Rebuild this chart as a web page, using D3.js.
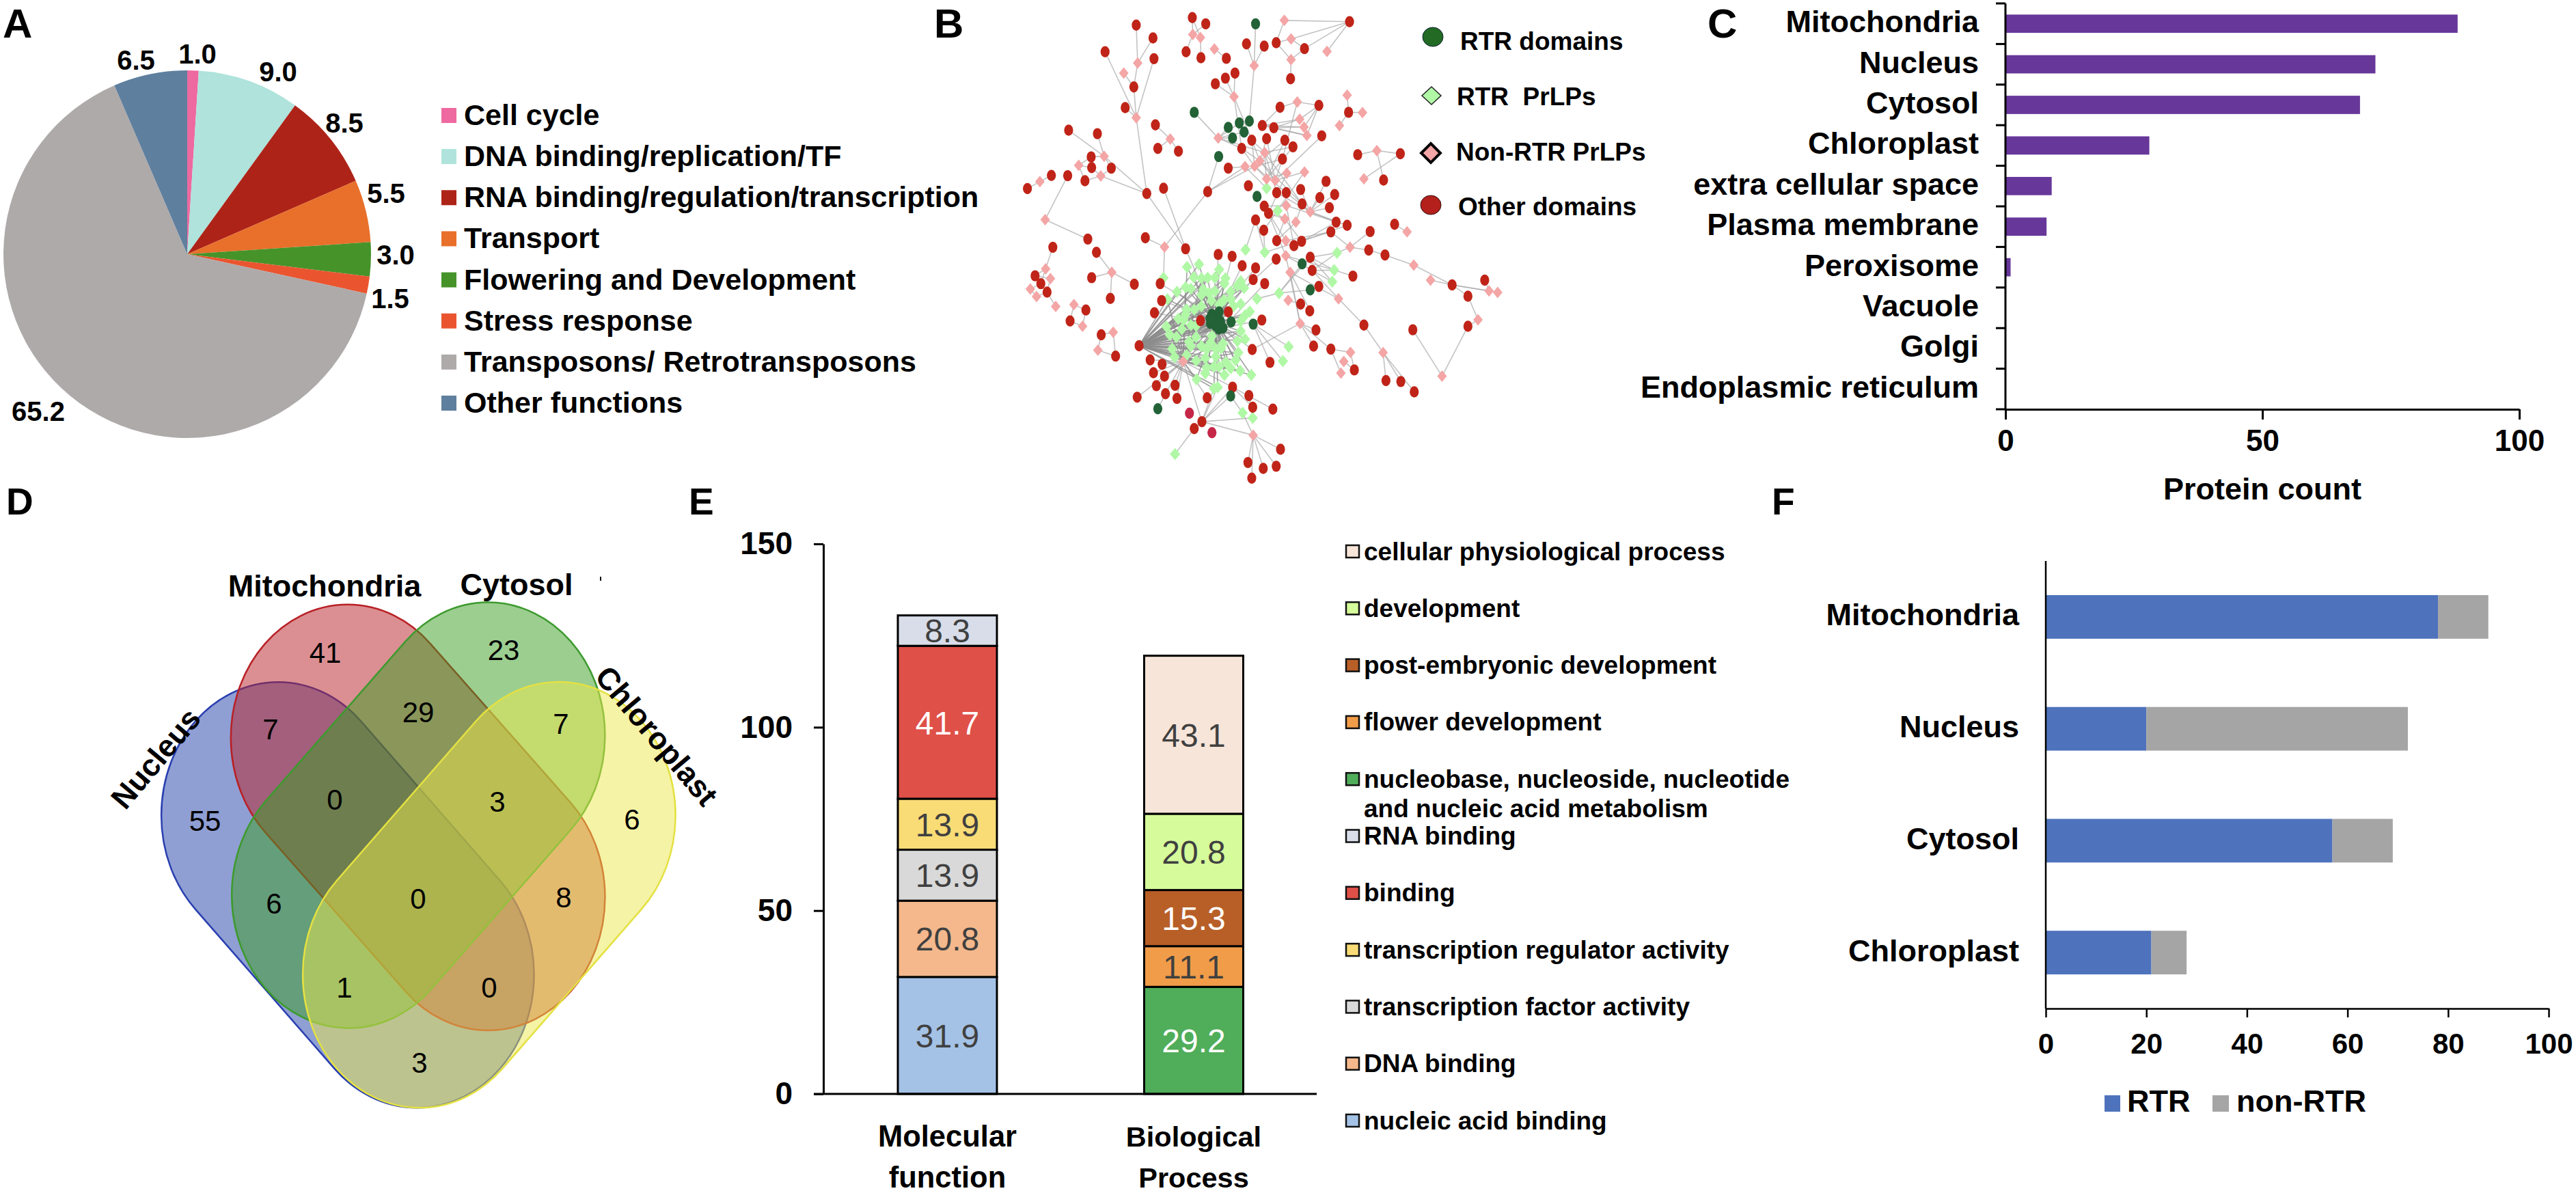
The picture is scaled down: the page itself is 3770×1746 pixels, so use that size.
<!DOCTYPE html>
<html><head><meta charset="utf-8">
<script src="https://cdn.jsdelivr.net/npm/d3@7/dist/d3.min.js"></script>
<style>html,body{margin:0;padding:0;background:#fff}svg{display:block}text{font-family:"Liberation Sans",Arial,sans-serif}</style>
</head><body><svg id="c" width="3770" height="1746" viewBox="0 0 3770 1746"></svg>
<script>
// ---------- Panel A ----------
const funcNames=["Cell cycle","DNA binding/replication/TF","RNA binding/regulation/transcription","Transport","Flowering and Development","Stress response","Transposons/ Retrotransposons","Other functions"];
const funcValues=[1.0,9.0,8.5,5.5,3.0,1.5,65.2,6.5];
const funcColors=["#ee69a0","#afe3db","#ae2318","#e8702b","#46932a","#ea5530","#aeaaaa","#5f7f9e"];
// ---------- Panel B (in layout units) ----------
const otherDomains=[[563,56],[591,76],[446,80],[481,121],[381,165],[483,187],[550,165],[581,184],[634,186],[676,140],[713,147],[738,136],[797,155],[891,69],[768,251],[652,233],[632,249],[611,267],[441,277],[423,343],[746,342],[827,336],[889,358],[709,400],[733,407],[486,398],[305,415],[365,426],[833,433],[718,442],[756,447],[687,447],[773,468],[666,473],[491,473],[534,482],[751,507],[908,493],[997,490],[638,536],[352,500],[353,534],[394,536],[339,576],[269,559],[303,560],[219,601],[468,617],[503,600],[595,611],[680,592],[842,578],[962,574],[789,604],[739,614],[759,614],[860,620],[829,630],[792,650],[849,662],[713,657],[722,680],[695,701],[863,708],[886,718],[852,739],[712,734],[985,715],[934,738],[465,758],[345,762],[549,793],[739,767],[775,783],[791,769],[272,788],[363,804],[931,797],[965,813],[617,811],[646,817],[738,826],[809,820],[667,847],[695,854],[813,862],[898,880],[235,879],[353,885],[247,904],[260,931],[442,906],[496,904],[690,891],[714,904],[827,913],[1105,908],[1173,893],[1138,944],[392,951],[499,958],[789,969],[341,988],[808,991],[484,997],[638,994],[580,1022],[708,1020],[308,1023],[821,1052],[1023,1051],[921,1036],[1138,1040],[373,1067],[452,1102],[403,1135],[816,1103],[852,1113],[688,1114],[475,1147],[500,1161],[725,1155],[482,1188],[505,1199],[901,1179],[488,1229],[527,1228],[967,1213],[998,1216],[1026,1249],[507,1255],[647,1234],[448,1266],[531,1270],[594,1268],[681,1261],[689,1298],[731,1304],[583,1344],[567,1366],[747,1432],[679,1474],[711,1493],[738,1486],[687,1524]];
const crimsonDomains=[[557,1317],[604,1379]];
const rtrDomains=[[695,76],[567,358],[661,392],[682,386],[638,406],[671,421],[647,440],[618,499],[698,626],[792,841],[809,924],[690,1033],[644,1026],[643,1262],[491,1303]];
const rtrCore=[[604,1002],[619,994],[601,1031],[612,1016],[627,1045],[612,1038],[600,1015],[622,1025],[618,1048]];
const nonRtrPrLPs=[[755,65],[769,124],[564,110],[580,120],[609,156],[692,209],[769,190],[844,164],[650,308],[782,325],[886,303],[918,359],[870,400],[787,380],[796,405],[802,432],[449,201],[420,233],[446,375],[617,440],[517,443],[714,486],[704,513],[673,531],[693,530],[948,480],[921,570],[379,498],[326,527],[372,561],[245,579],[797,548],[760,552],[718,570],[736,575],[759,655],[809,675],[756,698],[779,708],[256,700],[1011,739],[758,767],[892,788],[505,787],[758,815],[1025,845],[767,868],[1060,893],[395,868],[257,857],[267,888],[225,921],[238,945],[278,977],[316,971],[334,1040],[398,1059],[366,1116],[763,957],[868,952],[1182,927],[1200,932],[1159,1019],[788,1031],[961,1124],[893,1123],[879,1152],[873,1189],[1084,1199],[544,1152],[690,1387]];
const rtrPrLPsOuter=[[718,600],[741,672],[674,796],[714,804],[865,806],[859,861],[855,898],[744,934],[698,952],[503,886],[764,1105],[752,1151],[668,1316],[689,1332],[527,1447]];
const rtrPrLPsCloud=[[552,851],[577,842],[619,859],[566,884],[582,887],[595,885],[610,885],[632,887],[630,904],[664,896],[657,911],[671,918],[549,916],[560,920],[531,930],[586,923],[598,935],[610,928],[582,940],[643,930],[511,954],[603,958],[629,956],[643,952],[582,976],[619,971],[664,969],[649,976],[567,987],[551,986],[683,993],[549,1002],[534,1016],[545,1020],[673,1005],[664,1023],[509,1041],[541,1049],[560,1036],[571,1038],[664,1055],[516,1067],[530,1074],[571,1074],[604,1071],[657,1087],[673,1081],[556,1089],[560,1103],[582,1103],[601,1092],[627,1095],[521,1112],[593,1113],[612,1112],[623,1110],[659,1124],[526,1138],[551,1132],[590,1141],[612,1136],[571,1150],[653,1148],[633,1154],[593,1172],[608,1169],[619,1169],[643,1174],[663,1182],[590,1190],[630,1195],[686,1195],[572,1209],[608,1238],[616,1234]];
const networkLinks=[[446,80,449,201],[481,121,449,201],[381,165,446,375],[483,187,446,375],[449,201,441,277],[420,233,441,277],[441,277,446,375],[423,343,446,375],[446,375,468,617],[563,56,580,120],[591,76,564,110],[564,110,550,165],[580,120,581,184],[563,56,564,110],[609,156,634,186],[695,76,692,209],[676,140,692,209],[713,147,692,209],[692,209,682,386],[755,65,891,69],[755,65,738,136],[738,136,769,124],[769,124,891,69],[769,124,797,155],[797,155,891,69],[844,164,891,69],[738,136,769,190],[769,190,797,155],[769,190,768,251],[611,267,650,308],[632,249,650,308],[652,233,650,308],[650,308,666,473],[650,308,687,447],[567,358,617,440],[617,440,638,406],[617,440,647,440],[617,440,661,392],[617,440,671,421],[617,440,666,473],[617,440,714,486],[618,499,595,611],[746,342,709,400],[782,325,746,342],[782,325,827,336],[827,336,787,380],[827,336,796,405],[827,336,802,432],[782,325,751,507],[709,400,787,380],[733,407,796,405],[709,400,802,432],[733,407,787,380],[733,407,802,432],[709,400,796,405],[833,433,736,575],[886,303,889,358],[889,358,918,359],[889,358,870,400],[486,398,517,443],[517,443,491,473],[517,443,534,482],[908,493,948,480],[948,480,997,490],[948,480,962,574],[997,490,921,570],[305,415,379,498],[365,426,379,498],[379,498,352,500],[379,498,468,617],[352,500,326,527],[353,534,326,527],[353,534,372,561],[394,536,372,561],[339,576,372,561],[326,527,339,576],[372,561,468,617],[394,536,379,498],[219,601,245,579],[245,579,269,559],[303,560,256,700],[256,700,345,762],[468,617,549,793],[503,600,549,793],[595,611,505,787],[595,611,673,531],[595,611,693,530],[638,536,673,531],[465,758,505,787],[505,787,503,886],[687,447,714,486],[718,442,704,513],[756,447,704,513],[773,468,714,486],[751,507,693,530],[666,473,704,513],[666,473,693,530],[687,447,693,530],[687,447,704,513],[718,442,736,575],[756,447,718,570],[773,468,718,570],[704,513,736,575],[693,530,718,570],[714,486,718,600],[673,531,718,600],[714,486,739,614],[693,530,759,614],[704,513,792,650],[714,486,792,650],[751,507,736,575],[797,548,736,575],[760,552,722,680],[760,552,718,570],[797,548,712,734],[789,604,809,675],[739,614,809,675],[759,614,809,675],[792,650,809,675],[829,630,809,675],[849,662,809,675],[860,620,809,675],[842,578,809,675],[809,675,863,708],[809,675,886,718],[759,655,863,708],[759,655,713,657],[756,698,713,657],[756,698,722,680],[779,708,792,650],[779,708,739,767],[756,698,739,767],[756,698,791,769],[759,655,775,783],[713,657,758,767],[722,680,758,815],[695,701,674,796],[712,734,714,804],[695,701,714,804],[852,739,758,767],[852,739,714,804],[863,708,775,783],[886,718,791,769],[985,715,1011,739],[934,738,892,788],[892,788,931,797],[892,788,852,739],[931,797,965,813],[965,813,1025,845],[1025,845,1105,908],[1060,893,1105,908],[1105,908,1182,927],[1105,908,1200,932],[1173,893,1182,927],[1138,944,1105,908],[1138,944,1159,1019],[1159,1019,1138,1040],[1138,1040,1084,1199],[1023,1051,1084,1199],[892,788,865,806],[865,806,809,820],[865,806,813,862],[859,861,809,820],[859,861,813,862],[855,898,813,862],[855,898,809,820],[859,861,898,880],[758,815,813,862],[758,815,859,861],[813,862,868,952],[767,868,868,952],[868,952,921,1036],[921,1036,961,1124],[961,1124,967,1213],[961,1124,998,1216],[961,1124,1026,1249],[744,934,809,924],[744,934,809,820],[744,934,792,841],[698,952,744,934],[767,868,809,991],[763,957,789,969],[758,815,788,1031],[767,868,788,1031],[788,1031,688,1114],[788,1031,816,1103],[788,1031,821,1052],[788,1031,852,1113],[852,1113,893,1123],[852,1113,873,1189],[893,1123,901,1179],[879,1152,901,1179],[690,1033,764,1105],[690,1033,752,1151],[690,1033,725,1155],[235,879,257,857],[272,788,257,857],[257,857,247,904],[267,888,235,879],[267,888,260,931],[225,921,247,904],[225,921,238,945],[238,945,260,931],[260,931,278,977],[316,971,341,988],[341,988,334,1040],[308,1023,316,971],[308,1023,334,1040],[363,804,395,868],[353,885,395,868],[395,868,442,906],[395,868,392,951],[373,1067,398,1059],[398,1059,403,1135],[373,1067,366,1116],[366,1116,403,1135],[544,1152,475,1147],[544,1152,500,1161],[544,1152,482,1188],[544,1152,505,1199],[544,1152,488,1229],[544,1152,527,1228],[544,1152,507,1255],[544,1152,448,1266],[544,1152,531,1270],[544,1152,594,1268],[544,1152,647,1234],[491,1303,507,1255],[583,1344,544,1152],[583,1344,689,1332],[583,1344,690,1387],[583,1344,608,1238],[583,1344,616,1234],[583,1344,643,1262],[583,1344,647,1234],[567,1366,527,1447],[567,1366,583,1344],[690,1387,747,1432],[690,1387,679,1474],[690,1387,711,1493],[690,1387,738,1486],[690,1387,687,1524],[690,1387,668,1316],[668,1316,643,1262],[689,1332,681,1261],[647,1234,689,1298],[647,1234,731,1304],[496,904,604,1002],[499,958,604,1016],[484,997,601,1031],[617,811,612,1016],[646,817,612,1016],[667,847,612,1016],[695,854,619,994],[738,826,619,994],[690,891,619,994],[714,904,627,1045],[708,1020,627,1045],[688,1114,627,1045],[549,793,612,1016]];
// ---------- Panel C ----------
const locNames=["Mitochondria","Nucleus","Cytosol","Chloroplast","extra cellular space","Plasma membrane","Peroxisome","Vacuole","Golgi","Endoplasmic reticulum"];
const locCounts=[88,72,69,28,9,8,1,0,0,0];
// ---------- Panel D ----------
const vennSets=["Nucleus","Mitochondria","Cytosol","Chloroplast"];
const vennCounts=[55,41,23,7,29,7,0,3,6,6,0,8,1,0,3];
const vennFill=["#2040a8","#b82025","#3a9e22","#ebe84b"];
const vennStroke=["#2a3fb0","#b82025","#3d9a2e","#e4e142"];
// ---------- Panel E ----------
const goColumns=["Molecular function","Biological Process"];
const goMolecular=[["nucleic acid binding",31.9,"#a4c2e6"],["DNA binding",20.8,"#f4b88c"],["transcription factor activity",13.9,"#d9d9d9"],["transcription regulator activity",13.9,"#f9dc76"],["binding",41.7,"#df5048"],["RNA binding",8.3,"#d8dde9"]];
const goBiological=[["nucleobase, nucleoside, nucleotide",29.2,"#50ad5a"],["flower development",11.1,"#f19c49"],["post-embryonic development",15.3,"#b85f28"],["development",20.8,"#d6fb9a"],["cellular physiological process",43.1,"#f7e5d9"]];
const goLegendOrder=["cellular physiological process","development","post-embryonic development","flower development","nucleobase, nucleoside, nucleotide","RNA binding","binding","transcription regulator activity","transcription factor activity","DNA binding","nucleic acid binding"];
const goTicks=[0,50,100,150];
// ---------- Panel F ----------
const orgNames=["Mitochondria","Nucleus","Cytosol","Chloroplast"];
const orgRTR=[78,20,57,21];
const orgNonRTR=[10,52,12,7];
const orgTicks=[0,20,40,60,80,100];

const svg=d3.select("#c");
const BLACK="#000";
function txt(g,x,y,s,size,opt={}){
  const t=g.append("text").attr("x",x).attr("y",y).text(s).attr("font-size",size)
   .attr("font-weight",opt.w||"bold").attr("fill",opt.fill||BLACK)
   .attr("text-anchor",opt.a||"start").attr("dominant-baseline","central");
  if(opt.r!==undefined)t.attr("transform",`rotate(${opt.r} ${x} ${y})`);
  return t;
}
// Panel letters
[["A",4,55,60],["B",1367,55,60],["C",2499,55,60],["D",9,753,55],["E",1008,753,55],["F",2593,753,55]].forEach(d=>{
  svg.append("text").attr("x",d[1]).attr("y",d[2]).text(d[0]).attr("font-size",d[3]).attr("font-weight","bold");
});

// ===== A: pie
(function(){
  const g=svg.append("g").attr("transform","translate(274,372)");
  const pie=d3.pie().sort(null)(funcValues);
  const arc=d3.arc().innerRadius(0).outerRadius(269);
  g.selectAll("path").data(pie).join("path").attr("d",arc).attr("fill",(d,i)=>funcColors[i]);
  const pos=[[289,79],[407,105],[504,180],[565,283],[579,373],[571,437],[56,602],[199,88]];
  funcValues.forEach((v,i)=>txt(svg,pos[i][0],pos[i][1],v.toFixed(1),40,{a:"middle"}));
  const ly=d3.scalePoint().domain(funcNames).range([169,590]);
  funcNames.forEach((n,i)=>{
    svg.append("rect").attr("x",646).attr("y",ly(n)-11).attr("width",22).attr("height",22).attr("fill",funcColors[i]);
    txt(svg,679,ly(n)-1,n,43);
  });
})();

// ===== B: network
(function(){
  const X=d3.scaleLinear().domain([0,1568]).range([1350,2450]);
  const Y=d3.scaleLinear().domain([0,1568]).range([0,720]);
  const g=svg.append("g");
  const leftHub=[452,1102],core=[612,1030],pinkHub=[544,1152];
  const links=networkLinks.slice(), dense=[];
  rtrPrLPsCloud.forEach((p,i)=>{
    dense.push([core[0],core[1],p[0],p[1]]);
    if(i%3!==0)dense.push([leftHub[0],leftHub[1],p[0],p[1]]);
    if(i%4===0)dense.push([pinkHub[0],pinkHub[1],p[0],p[1]]);
  });
  rtrCore.forEach(p=>dense.push([leftHub[0],leftHub[1],p[0],p[1]]));
  const draw=(cls,data,col,op)=>g.selectAll("."+cls).data(data).join("line").attr("class",cls)
   .attr("x1",d=>X(d[0])).attr("y1",d=>Y(d[1])).attr("x2",d=>X(d[2])).attr("y2",d=>Y(d[3]))
   .attr("stroke",col).attr("stroke-opacity",op).attr("stroke-width",1.6);
  draw("ln",links,"#a9a9a9",.7);
  draw("dn",dense,"#8c8c8c",.8);
  const dia=(x,y,a,b)=>`M${x},${y-b}L${x+a},${y}L${x},${y+b}L${x-a},${y}Z`;
  g.selectAll(".lg").data(rtrPrLPsCloud.concat(rtrPrLPsOuter)).join("path").attr("class","lg")
   .attr("d",d=>dia(X(d[0]),Y(d[1]),7.5,9)).attr("fill","#b0f8a6");
  g.selectAll(".pk").data(nonRtrPrLPs).join("path").attr("class","pk")
   .attr("d",d=>dia(X(d[0]),Y(d[1]),7,8.5)).attr("fill","#f4a5a5");
  const ell=(cls,data,fill)=>g.selectAll("."+cls).data(data).join("ellipse").attr("class",cls)
   .attr("cx",d=>X(d[0])).attr("cy",d=>Y(d[1])).attr("rx",6.6).attr("ry",8.2).attr("fill",fill);
  ell("rd",otherDomains,"#c02418");
  ell("cr",crimsonDomains,"#c42748");
  ell("dg",rtrDomains.concat(rtrCore),"#226236");
  // legend
  svg.append("ellipse").attr("cx",2097).attr("cy",54).attr("rx",15).attr("ry",14).attr("fill","#236a24").attr("stroke","#123").attr("stroke-width",1);
  svg.append("path").attr("d",dia(2095,140,14,13)).attr("fill","#b0f8a6").attr("stroke","#222").attr("stroke-width",1.5);
  svg.append("path").attr("d",dia(2094,224,14,14)).attr("fill","#f4a5a5").attr("stroke","#000").attr("stroke-width",4);
  svg.append("ellipse").attr("cx",2094).attr("cy",300).attr("rx",15).attr("ry",14).attr("fill","#b4201c").attr("stroke","#301010").attr("stroke-width",1);
  [["RTR domains",2137,60],["RTR  PrLPs",2132,141],["Non-RTR PrLPs",2131,222],["Other domains",2134,302]].forEach(d=>{
    txt(svg,d[1],d[2],d[0],37).attr("xml:space","preserve").style("white-space","pre");
  });
})();

// ===== C: horizontal bars
(function(){
  const x=d3.scaleLinear().domain([0,100]).range([2935,3687]);
  const y=d3.scaleBand().domain(locNames).range([5,599]);
  svg.selectAll(".cb").data(locNames).join("rect").attr("class","cb")
   .attr("x",x(0)).attr("y",d=>y(d)+y.bandwidth()*.275).attr("height",y.bandwidth()*.45)
   .attr("width",(d,i)=>x(locCounts[i])-x(0)).attr("fill","#67379a");
  const ax=svg.append("g").attr("transform","translate(0,599)").call(d3.axisBottom(x).tickValues([0,50,100]).tickSize(15).tickSizeOuter(0));
  ax.selectAll("path,line").attr("stroke",BLACK).attr("stroke-width",3);
  ax.selectAll("text").attr("font-size",44).attr("font-weight","bold").attr("fill",BLACK).attr("y",30).attr("dy","0.71em");
  const ay=svg.append("g").attr("transform","translate(2935,0)");
  ay.append("line").attr("y1",5).attr("y2",599).attr("stroke",BLACK).attr("stroke-width",3);
  y.domain().concat([null]).forEach((d,i)=>{
    const yy=5+i*y.step();
    ay.append("line").attr("x1",-14).attr("x2",0).attr("y1",yy).attr("y2",yy).attr("stroke",BLACK).attr("stroke-width",3);
  });
  locNames.forEach(n=>txt(svg,2896,y(n)+y.bandwidth()/2-3,n,45,{a:"end"}));
  txt(svg,3311,715,"Protein count",45,{a:"middle"});
})();

// ===== D: venn
(function(){
  function stadium(c1,c2,rx,ry){
    const ux=(c2[0]-c1[0])/rx,uy=(c2[1]-c1[1])/ry,L=Math.hypot(ux,uy);
    const nx=-uy/L*rx,ny=ux/L*ry;
    return `M${c1[0]+nx},${c1[1]+ny}A${rx},${ry} 0 0 1 ${c1[0]-nx},${c1[1]-ny}L${c2[0]-nx},${c2[1]-ny}A${rx},${ry} 0 0 1 ${c2[0]+nx},${c2[1]+ny}Z`;
  }
  const sx=d3.scaleLinear().domain([0,1100]).range([0,772]);
  const sy=d3.scaleLinear().domain([0,1046]).range([700,1397]);
  const caps=[[[580,740],[870,1090]],[[725,570],[1018,920]],[[1018,565],[727,915]],[[1165,740],[875,1090]]];
  const rx=171,ry=195;
  caps.forEach((c,i)=>{
    const a=[sx(c[0][0]),sy(c[0][1])],b=[sx(c[1][0]),sy(c[1][1])];
    svg.append("path").attr("d",stadium(a,b,rx,ry)).attr("fill",vennFill[i]).attr("fill-opacity",.5).attr("stroke",vennStroke[i]).attr("stroke-width",2.5);
  });
  const pos=[[300,1201],[476,955],[737,951],[396,1067],[612,1042],[821,1059],[490,1170],[728,1173],[925,1199],[401,1322],[612,1315],[825,1313],[504,1445],[716,1445],[614,1555]];
  vennCounts.forEach((v,i)=>txt(svg,pos[i][0],pos[i][1],v,42,{a:"middle",w:"normal"}));
  txt(svg,228,1110,vennSets[0],45,{a:"middle",r:-50});
  txt(svg,475,857,vennSets[1],45,{a:"middle"});
  txt(svg,756,855,vennSets[2],45,{a:"middle"});
  txt(svg,961,1077,vennSets[3],45,{a:"middle",r:50});
  svg.append("rect").attr("x",878).attr("y",844).attr("width",2).attr("height",6).attr("fill","#111");
})();

// ===== E: stacked bars
(function(){
  const y=d3.scaleLinear().domain([0,150]).range([1601,796]);
  const centers={[goColumns[0]]:1386.5,[goColumns[1]]:1747};
  const barW=145;
  [goMolecular,goBiological].forEach((stack,k)=>{
    let acc=0;const cx=centers[goColumns[k]];
    stack.forEach(([name,v,col])=>{
      const y0=y(acc),y1=y(acc+v);
      svg.append("rect").attr("x",cx-barW/2).attr("width",barW).attr("y",y1).attr("height",y0-y1)
       .attr("fill",col).attr("stroke",BLACK).attr("stroke-width",3);
      const light=["binding","post-embryonic development","nucleobase, nucleoside, nucleotide"].includes(name);
      txt(svg,cx,(y0+y1)/2+1,v.toFixed(1),48,{a:"middle",w:"normal",fill:light?"#fff":"#404040"});
      acc+=v;
    });
  });
  const ax=svg.append("g").attr("transform","translate(1205,0)").call(d3.axisLeft(y).tickValues(goTicks).tickSize(14).tickSizeOuter(0));
  ax.selectAll("path,line").attr("stroke",BLACK).attr("stroke-width",3);
  ax.selectAll("text").attr("font-size",46).attr("font-weight","bold").attr("fill",BLACK).attr("x",-45);
  svg.append("line").attr("x1",1191).attr("x2",1927).attr("y1",1601).attr("y2",1601).attr("stroke",BLACK).attr("stroke-width",3);
  goColumns.forEach((c,i)=>{
    const [a,b]=c.split(" "),fs=i?41.5:43.5;
    txt(svg,centers[c],1663,a,fs,{a:"middle"});
    txt(svg,centers[c],1723,b,fs,{a:"middle"});
  });
  const allGo=goMolecular.concat(goBiological);
  const ly=d3.scalePoint().domain(goLegendOrder).range([807,1640]);
  goLegendOrder.forEach(n=>{
    const col=allGo.find(d=>d[0]===n)[2];
    svg.append("rect").attr("x",1970).attr("y",ly(n)-9).attr("width",19).attr("height",18).attr("fill",col).attr("stroke","#111").attr("stroke-width",2.5);
    txt(svg,1996,ly(n),n,37);
  });
  txt(svg,1996,ly(goLegendOrder[4])+43,"and nucleic acid metabolism",37);
})();

// ===== F: stacked horizontal
(function(){
  const x=d3.scaleLinear().domain([0,100]).range([2994,3730]);
  const y=d3.scaleBand().domain(orgNames).range([821,1476]).paddingInner(.61).paddingOuter(.305);
  orgNames.forEach((n,i)=>{
    svg.append("rect").attr("x",x(0)).attr("y",y(n)).attr("height",y.bandwidth()).attr("width",x(orgRTR[i])-x(0)).attr("fill","#4e73bc");
    svg.append("rect").attr("x",x(orgRTR[i])).attr("y",y(n)).attr("height",y.bandwidth()).attr("width",x(orgRTR[i]+orgNonRTR[i])-x(orgRTR[i])).attr("fill","#a5a5a5");
    txt(svg,2955,y(n)+y.bandwidth()/2-3,n,45,{a:"end"});
  });
  const ax=svg.append("g").attr("transform","translate(0,1476)").call(d3.axisBottom(x).tickValues(orgTicks).tickSize(13).tickSizeOuter(0));
  ax.selectAll("path,line").attr("stroke",BLACK).attr("stroke-width",2.5);
  ax.selectAll("text").attr("font-size",42).attr("font-weight","bold").attr("fill",BLACK).attr("y",36).attr("dy","0.71em");
  svg.append("line").attr("x1",x(0)).attr("x2",x(0)).attr("y1",821).attr("y2",1476).attr("stroke",BLACK).attr("stroke-width",2.5);
  svg.append("rect").attr("x",3080).attr("y",1603).attr("width",23).attr("height",24).attr("fill","#4e73bc");
  txt(svg,3113,1611,"RTR",45);
  svg.append("rect").attr("x",3238).attr("y",1603).attr("width",24).attr("height",24).attr("fill","#a5a5a5");
  txt(svg,3273,1611,"non-RTR",45);
})();
</script></body></html>
